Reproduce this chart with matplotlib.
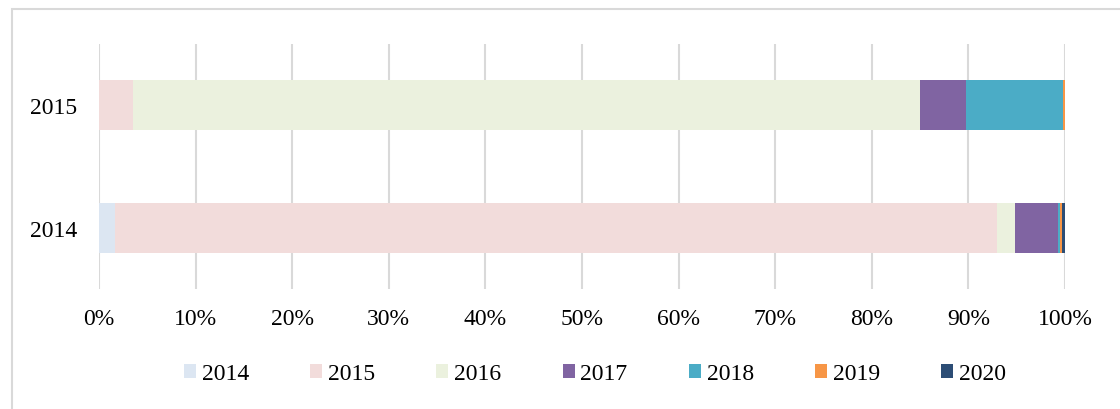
import numpy as np
import matplotlib.pyplot as plt
from matplotlib.patches import Rectangle

plt.rcParams['font.family'] = ['Liberation Serif', 'DejaVu Serif']

rows = ["2014", "2015"]
series = ["2014", "2015", "2016", "2017", "2018", "2019", "2020"]
# share of each row (percent)
row_2014 = [1.7, 91.3, 1.8, 4.5, 0.2, 0.2, 0.3]
row_2015 = [0.0, 3.5, 81.5, 4.8, 10.0, 0.2, 0.0]
colors = ["#DCE6F2", "#F2DCDB", "#EBF1DE", "#8064A2", "#4BACC6", "#F79646", "#2C4D75"]

vals = np.array([row_2014, row_2015]) / 100.0

fig = plt.figure(figsize=(11.2, 4.1), dpi=100)
fig.patches.append(Rectangle((12 / 1120, -0.05), 1.2, 1 - 10 / 410 + 0.05,
                             transform=fig.transFigure, fill=False,
                             edgecolor="#D9D9D9", linewidth=1.5))
ax = fig.add_axes([99 / 1120, 1 - 290 / 410, 966 / 1120, 245 / 410])

y = np.arange(len(rows))
left = np.zeros(len(rows))
for i, name in enumerate(series):
    ax.barh(y, vals[:, i], left=left, height=0.41, color=colors[i], label=name, zorder=3)
    left += vals[:, i]

ax.set_xlim(0, 1)
ax.set_ylim(-0.5, 1.5)
ax.set_xticks(np.linspace(0, 1, 11))
ax.set_xticklabels([f"{int(round(t * 100))}%" for t in np.linspace(0, 1, 11)])
ax.set_yticks(y)
ax.set_yticklabels(rows)
ax.tick_params(axis="both", length=0, labelsize=17)
ax.tick_params(axis="x", pad=13.5)
ax.tick_params(axis="y", pad=16)
ax.grid(axis="x", color="#D9D9D9", linewidth=1.5, zorder=0)
for s in ax.spines.values():
    s.set_visible(False)

ax.legend(loc="center", bbox_to_anchor=(595 / 1120, 1 - 375 / 410),
          bbox_transform=fig.transFigure, ncol=7, frameon=False, fontsize=17,
          handlelength=0.5, handleheight=0.5, handletextpad=0.25,
          columnspacing=2.6, borderaxespad=0)

fig.savefig("out.png", dpi=100)
